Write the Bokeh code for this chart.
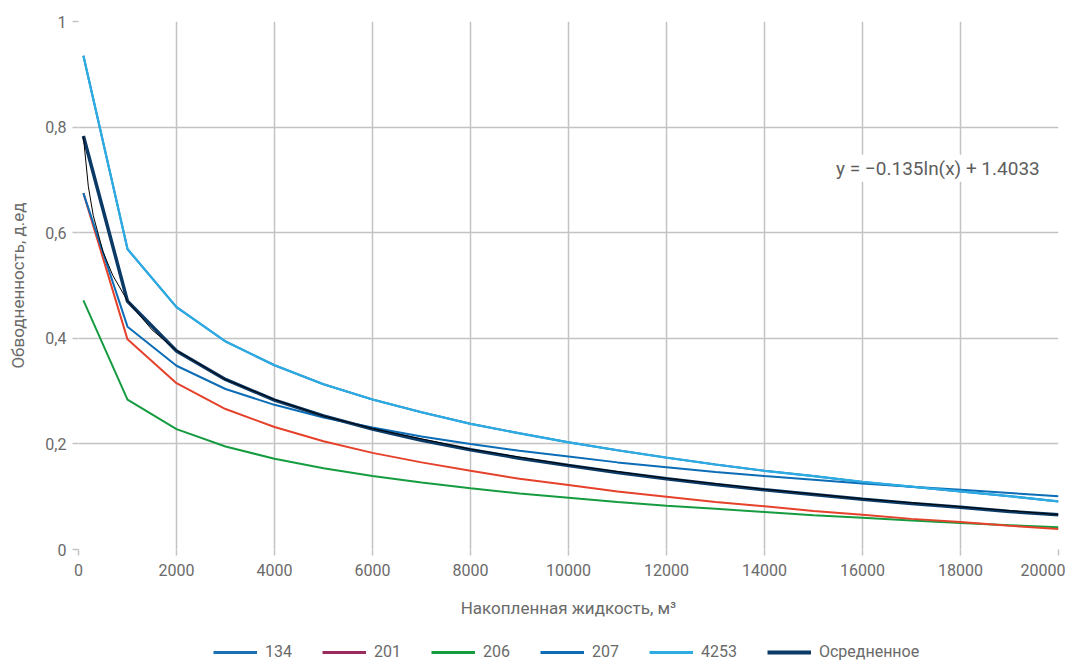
from bokeh.plotting import figure
from bokeh.layouts import column
from bokeh.models import Range1d, FixedTicker, CustomJSTickFormatter, Legend, LegendItem, Label
from bokeh.embed import file_html
from bokeh.resources import INLINE

FONT = "Roboto"
TXT = "#6a6a6a"
GRID = "#c3c3c3"

x_vals = [100, 1000, 2000, 3000, 4000, 5000, 6000, 7000, 8000, 9000, 10000,
          11000, 12000, 13000, 14000, 15000, 16000, 17000, 18000, 19000, 20000]

w4253 = [0.935, 0.569, 0.459, 0.394, 0.349, 0.313, 0.284, 0.260, 0.238, 0.220, 0.203,
         0.188, 0.174, 0.161, 0.149, 0.139, 0.128, 0.119, 0.110, 0.101, 0.091]
w134 = [0.935, 0.569, 0.459, 0.394, 0.349, 0.313, 0.284, 0.260, 0.238, 0.220, 0.203,
        0.188, 0.174, 0.161, 0.149, 0.139, 0.128, 0.119, 0.110, 0.101, 0.091]
w207 = [0.675, 0.422, 0.348, 0.304, 0.274, 0.250, 0.231, 0.214, 0.200, 0.187, 0.176,
        0.165, 0.156, 0.147, 0.139, 0.132, 0.125, 0.119, 0.113, 0.107, 0.101]
w201 = [0.675, 0.398, 0.315, 0.266, 0.232, 0.205, 0.183, 0.165, 0.149, 0.134, 0.122,
        0.110, 0.100, 0.090, 0.082, 0.073, 0.066, 0.058, 0.052, 0.045, 0.039]
w206 = [0.472, 0.284, 0.228, 0.195, 0.172, 0.154, 0.139, 0.127, 0.116, 0.106, 0.098,
        0.090, 0.083, 0.077, 0.071, 0.065, 0.060, 0.055, 0.050, 0.046, 0.042]
w_avg = [0.783, 0.470, 0.376, 0.322, 0.283, 0.253, 0.228, 0.207, 0.189, 0.173, 0.159,
         0.146, 0.134, 0.123, 0.113, 0.104, 0.095, 0.087, 0.080, 0.072, 0.066]

trend_x = [100, 200, 300, 500, 700, 1000, 1500, 2000, 3000, 4000, 5000, 6000,
           8000, 10000, 12000, 14000, 16000, 18000, 20000]
trend_y = [0.782, 0.688, 0.633, 0.564, 0.519, 0.471, 0.416, 0.377, 0.322, 0.284, 0.253,
           0.229, 0.190, 0.160, 0.135, 0.114, 0.096, 0.081, 0.066]

series_names = ["134", "201", "206", "207", "4253", "Осредненное"]
equation = "y = \u22120.135ln(x) + 1.4033"
x_ticks = [0, 2000, 4000, 6000, 8000, 10000, 12000, 14000, 16000, 18000, 20000]
y_ticks = [0, 0.2, 0.4, 0.6, 0.8, 1.0]

p = figure(frame_width=980, frame_height=528, output_backend="svg", toolbar_location=None,
           x_range=Range1d(0, 20000), y_range=Range1d(0, 1),
           min_border_left=78, min_border_right=7, min_border_top=21, min_border_bottom=80)
p.outline_line_color = None
p.background_fill_color = "white"

for ax in (p.xaxis[0], p.yaxis[0]):
    ax.axis_line_color = None
    ax.major_tick_line_color = GRID
    ax.major_tick_line_width = 1.5
    ax.major_tick_out = 6
    ax.major_tick_in = 0
    ax.minor_tick_line_color = None
    ax.major_label_text_font = FONT
    ax.major_label_text_font_size = "16px"
    ax.major_label_text_color = TXT
    ax.axis_label_text_font = FONT
    ax.axis_label_text_font_size = "17px"
    ax.axis_label_text_color = TXT
    ax.axis_label_text_font_style = "normal"

p.xaxis.ticker = FixedTicker(ticks=x_ticks)
p.yaxis.ticker = FixedTicker(ticks=y_ticks)
p.yaxis.formatter = CustomJSTickFormatter(code="var s = (Math.round(tick*10)/10).toString(); return s.replace('.', ',');")
p.xaxis.axis_label = "Накопленная жидкость, м³"
p.yaxis.axis_label = "Обводненность, д.ед"
p.xaxis.major_label_standoff = 8
p.yaxis.major_label_standoff = 6
p.xaxis.axis_label_standoff = 19
p.yaxis.axis_label_standoff = 14

p.xgrid.ticker = FixedTicker(ticks=x_ticks)
p.ygrid.ticker = FixedTicker(ticks=y_ticks)
for g in (p.xgrid[0], p.ygrid[0]):
    g.grid_line_color = GRID
    g.grid_line_width = 1.5

C134 = "#1b6fb5"
C201 = "#9b2a5d"
C201_LINE = "#e5412b"
C206 = "#169c40"
C207 = "#0c6db6"
C4253 = "#2cace3"
CAVG = "#0b3a66"

p.line(x_vals, w134, line_color=C134, line_width=2)
p.line(x_vals, w206, line_color=C206, line_width=2)
p.line(x_vals, w201, line_color=C201_LINE, line_width=2)
p.line(x_vals, w207, line_color=C207, line_width=2)
p.line(x_vals, w4253, line_color=C4253, line_width=2.2)
p.line(x_vals, w_avg, line_color=CAVG, line_width=3.5)
p.line(trend_x, trend_y, line_color="black", line_width=1)

eq = Label(x=15420, y=0.722, text=equation, text_font=FONT, text_font_size="19px",
           text_color="#5e5e5e", text_baseline="middle", text_align="left",
           background_fill_color="white", border_line_color=None, padding=2)
p.add_layout(eq)

# legend strip below the chart
lg = figure(width=1065, height=33, output_backend="svg", toolbar_location=None,
            x_range=Range1d(0, 1), y_range=Range1d(0, 1),
            min_border_left=0, min_border_right=0, min_border_top=0, min_border_bottom=0)
lg.axis.visible = False
lg.grid.visible = False
lg.outline_line_color = None

leg_colors = [C134, C201, C206, C207, C4253, CAVG]
leg_widths = [3, 3, 3, 3, 3, 4]
items = []
for name, c, w in zip(series_names, leg_colors, leg_widths):
    r = lg.line([-5, -4], [-5, -5], line_color=c, line_width=w)
    items.append(LegendItem(label=name, renderers=[r]))

legend = Legend(items=items, orientation="horizontal", location=(135, 1),
                label_text_font=FONT, label_text_font_size="16px", label_text_color=TXT,
                glyph_width=44, glyph_height=18, label_standoff=8, spacing=30,
                border_line_color=None, background_fill_alpha=0, padding=0, margin=0)
lg.add_layout(legend)

layout = column(p, lg, spacing=0)
open("out.html", "w").write(file_html(layout, INLINE))
